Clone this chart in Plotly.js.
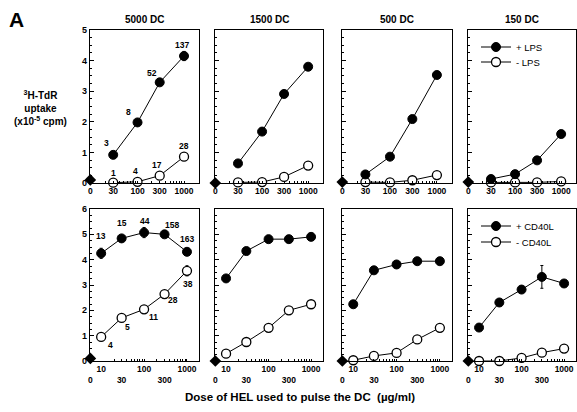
<!DOCTYPE html>
<html>
<head>
<meta charset="utf-8">
<script src="https://cdn.plot.ly/plotly-3.0.1.min.js"></script>
<style>html,body{margin:0;padding:0;background:#fff;}#chart{width:577px;height:412px;}</style>
</head>
<body>
<div id="chart"></div>
<script>
// ---- data ----
const doseTop = [30, 100, 300, 1000];
const doseBottom = [10, 30, 100, 300, 1000];
const topTickVals = [0, 30, 100, 300, 1000];
const topTickText = ['0', '30', '100', '300', '1000'];
const botTickVals = [0, 10, 30, 100, 300, 1000];
const botTickText = ['<br>0', '10', '<br>30', '100', '<br>300', '1000'];
const panelTitles = ['5000 DC', '1500 DC', '500 DC', '150 DC'];

const lpsPlus = [[0.92, 1.98, 3.29, 4.15], [0.64, 1.68, 2.91, 3.80], [0.28, 0.86, 2.09, 3.53], [0.13, 0.29, 0.74, 1.60]];
const lpsMinus = [[0.01, 0.04, 0.24, 0.86], [0.02, 0.03, 0.20, 0.57], [0.03, 0.02, 0.09, 0.26], [0.02, 0.02, 0.02, 0.05]];
const lpsPlusErr = [[0, 0, 0, 0.15], [0, 0, 0, 0], [0, 0, 0, 0], [0, 0, 0, 0]];
const topZero = [0.10, 0.0, 0.03, 0.03];

const cd40Plus = [[4.25, 4.84, 5.07, 5.00, 4.31], [3.26, 4.34, 4.81, 4.81, 4.90], [2.24, 3.58, 3.81, 3.94, 3.94], [1.32, 2.31, 2.82, 3.32, 3.06]];
const cd40Minus = [[0.95, 1.70, 2.04, 2.64, 3.56], [0.29, 0.75, 1.31, 2.00, 2.24], [0.03, 0.20, 0.32, 0.85, 1.31], [0.00, 0.00, 0.12, 0.33, 0.49]];
const cd40PlusErr = [[0.2, 0, 0.2, 0, 0], [0, 0, 0, 0, 0], [0, 0, 0, 0, 0], [0, 0, 0, 0.45, 0]];
const cd40MinusErr = [[0, 0, 0, 0, 0.2], [0, 0, 0, 0, 0], [0, 0, 0, 0, 0], [0, 0, 0, 0, 0]];
const botZero = [0.10, 0.0, 0.0, 0.0];

const topLabelsPlus = ['3', '8', '52', '137'];
const topLabelsMinus = ['1', '4', '17', '28'];
const botLabelsPlus = ['13', '15', '44', '158', '163'];
const botLabelsMinus = ['4', '5', '11', '28', '38'];

// ---- layout constants ----
const W = 577, H = 412;
const colPx = [[90, 199], [215, 323], [342, 452], [468, 576]];
const rowPx = [[30, 183], [209, 361]];
const zeroPos = [9.65, 5.6]; // plotting position used for dose 0 on the log axes
const xRange = [[0.978, 3.322], [0.740, 3.28]];
const yMax = [5, 6];
const FONT = 'Liberation Sans, Arial, Helvetica, sans-serif';
// legend item centres (px) : +LPS, -LPS, +CD40L, -CD40L
const legendY = [47, 62, 226, 242];
const legendX = 476;

// label offsets in pixels [dx, dy(up)]
const topPlusOff = [[-7, 12], [-9, 10], [-8, 9], [-2, 11]];
const topMinusOff = [[0, 10], [-2, 11], [-3, 11], [0, 11]];
const botPlusOff = [[0, 17], [0, 15], [1, 12], [7, 9], [0, 13]];
const botMinusOff = [[9, -8], [6, -9], [9, -8], [8, -6], [1, -13]];

const traces = [];
const layout = {
  width: W, height: H,
  margin: {l: 0, r: 0, t: 0, b: 0},
  paper_bgcolor: '#fff', plot_bgcolor: '#fff',
  font: {family: FONT, color: '#000', size: 9},
  showlegend: true,
  annotations: []
};
['legend', 'legend2', 'legend3', 'legend4'].forEach((k, i) => {
  layout[k] = {x: legendX / W, y: 1 - legendY[i] / H, xanchor: 'left', yanchor: 'middle',
    bgcolor: 'rgba(0,0,0,0)', font: {size: 9.5, family: FONT}, itemwidth: 30};
});

function minorVals(lo, hi) {
  const v = [];
  for (let d = 1; d <= 1000; d *= 10) for (let k = 1; k < 10; k++) { const t = k * d; if (t >= lo && t <= hi) v.push(t); }
  return v;
}

for (let r = 0; r < 2; r++) {
  for (let c = 0; c < 4; c++) {
    const idx = r * 4 + c + 1;
    const xa = 'xaxis' + (idx === 1 ? '' : idx), ya = 'yaxis' + (idx === 1 ? '' : idx);
    const xr = 'x' + (idx === 1 ? '' : idx), yr = 'y' + (idx === 1 ? '' : idx);
    const z = zeroPos[r];
    const tv = (r === 0 ? topTickVals : botTickVals).map(v => v === 0 ? z : v);
    const tt = r === 0 ? topTickText : botTickText;
    layout[xa] = {
      domain: [colPx[c][0] / W, colPx[c][1] / W], anchor: yr, type: 'log', range: xRange[r],
      showgrid: false, zeroline: false, showline: true, mirror: true, linecolor: '#000', linewidth: 1.2,
      tickmode: 'array', tickvals: tv, ticktext: tt, ticks: '', ticklen: 0,
      tickfont: {size: 8.5, family: FONT, weight: 'bold'},
      minor: {tickmode: 'array', tickvals: minorVals(20, 1000), ticks: 'inside', ticklen: 2, tickcolor: '#000', showgrid: false},
      fixedrange: true
    };
    layout[ya] = {
      domain: [1 - rowPx[r][1] / H, 1 - rowPx[r][0] / H], anchor: xr, range: [0, yMax[r]],
      showgrid: false, zeroline: false, showline: true, mirror: true, linecolor: '#000', linewidth: 1.2,
      tickmode: 'linear', tick0: 0, dtick: 1, ticks: 'inside', ticklen: 4, tickcolor: '#000',
      showticklabels: c === 0, tickfont: {size: 9, family: FONT, weight: 'bold'},
      minor: {dtick: 0.25, ticks: 'inside', ticklen: 2, tickcolor: '#000', showgrid: false},
      fixedrange: true
    };
    const dose = r === 0 ? doseTop : doseBottom;
    const plus = r === 0 ? lpsPlus[c] : cd40Plus[c];
    const minus = r === 0 ? lpsMinus[c] : cd40Minus[c];
    const pErr = r === 0 ? lpsPlusErr[c] : cd40PlusErr[c];
    const mErr = r === 0 ? [0, 0, 0, 0] : cd40MinusErr[c];
    const show = c === 3;
    const nameP = r === 0 ? '+ LPS' : '+ CD40L';
    const nameM = r === 0 ? '- LPS' : '- CD40L';
    traces.push({
      x: dose, y: minus, xaxis: xr, yaxis: yr, type: 'scatter', mode: 'lines+markers', name: nameM,
      legend: r === 0 ? 'legend2' : 'legend4', showlegend: show, cliponaxis: false,
      line: {color: '#000', width: 1},
      marker: {symbol: 'circle', size: 9, color: '#fff', line: {color: '#000', width: 1.3}},
      error_y: {type: 'data', array: mErr, visible: true, color: '#000', thickness: 1, width: 1.5}
    });
    traces.push({
      x: dose, y: plus, xaxis: xr, yaxis: yr, type: 'scatter', mode: 'lines+markers', name: nameP,
      legend: r === 0 ? 'legend' : 'legend3', showlegend: show, cliponaxis: false,
      line: {color: '#000', width: 1},
      marker: {symbol: 'circle', size: 9, color: '#000', line: {color: '#000', width: 1}},
      error_y: {type: 'data', array: pErr, visible: true, color: '#000', thickness: 1, width: 1.5}
    });
    traces.push({
      x: [z], y: [r === 0 ? topZero[c] : botZero[c]], xaxis: xr, yaxis: yr, type: 'scatter', mode: 'markers',
      showlegend: false, cliponaxis: false, hoverinfo: 'skip',
      marker: {symbol: 'diamond', size: 9, color: '#000'}
    });
    if (r === 0) {
      layout.annotations.push({
        text: '<b>' + panelTitles[c] + '</b>', xref: 'paper', yref: 'paper',
        x: (colPx[c][0] + colPx[c][1]) / 2 / W, y: 1 - 20 / H, xanchor: 'center', yanchor: 'middle',
        showarrow: false, font: {size: 10, family: FONT}
      });
    }
  }
}

// value labels in first column
function addLabels(labels, dose, vals, offs, xr, yr) {
  labels.forEach((t, i) => {
    layout.annotations.push({
      text: '<b>' + t + '</b>', xref: xr, yref: yr, x: Math.log10(dose[i]), y: vals[i],
      xshift: offs[i][0], yshift: offs[i][1], xanchor: 'center', yanchor: 'middle',
      showarrow: false, font: {size: 8.5, family: FONT}
    });
  });
}
addLabels(topLabelsPlus, doseTop, lpsPlus[0], topPlusOff, 'x', 'y');
addLabels(topLabelsMinus, doseTop, lpsMinus[0], topMinusOff, 'x', 'y');
addLabels(botLabelsPlus, doseBottom, cd40Plus[0], botPlusOff, 'x5', 'y5');
addLabels(botLabelsMinus, doseBottom, cd40Minus[0], botMinusOff, 'x5', 'y5');

// panel letter, y title, x title
layout.annotations.push({text: '<b>A</b>', xref: 'paper', yref: 'paper', x: 16 / W, y: 1 - 20 / H,
  xanchor: 'center', yanchor: 'middle', showarrow: false, font: {size: 21, family: FONT}});
layout.annotations.push({text: '<b><sup>3</sup>H-TdR<br>uptake<br>(x10<sup>-5</sup> cpm)</b>', xref: 'paper', yref: 'paper',
  x: 40 / W, y: 1 - 108 / H, xanchor: 'center', yanchor: 'middle', align: 'center', showarrow: false,
  font: {size: 10, family: FONT}});
layout.annotations.push({text: 'Dose of HEL used to pulse the DC  (µg/ml)', xref: 'paper', yref: 'paper',
  x: 300 / W, y: 1 - 397 / H, xanchor: 'center', yanchor: 'middle', showarrow: false,
  font: {size: 11.5, family: FONT, weight: 600}});

Plotly.newPlot('chart', traces, layout, {staticPlot: true, displayModeBar: false});
</script>
</body>
</html>
